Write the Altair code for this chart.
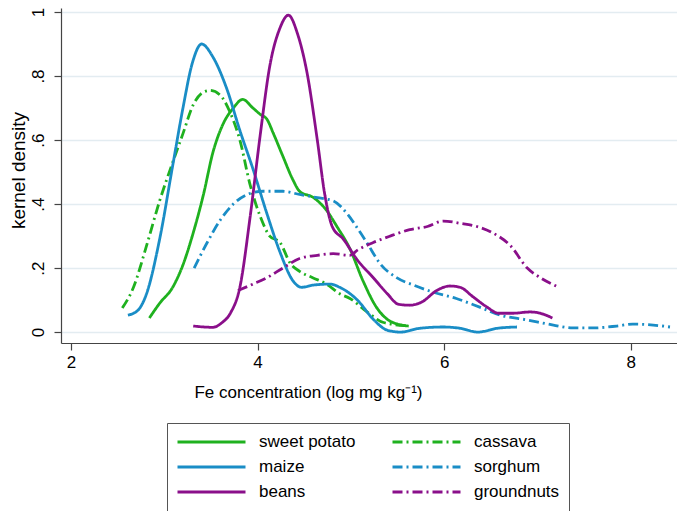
import altair as alt
import pandas as pd

crops = ["sweet potato", "cassava", "maize", "sorghum", "beans", "groundnuts"]
legend_order = ["sweet potato", "maize", "beans", "cassava", "sorghum", "groundnuts"]
colors = ["#1fb11f", "#1a8dc6", "#8a0f8a", "#1fb11f", "#1a8dc6", "#8a0f8a"]
dashes = [[1, 0], [1, 0], [1, 0], [10, 4, 2, 4], [10, 4, 2, 4], [10, 4, 2, 4]]

sweet_potato_x = [2.84, 2.95, 3.09, 3.20, 3.31, 3.42, 3.52, 3.63, 3.74, 3.84, 3.95, 4.03, 4.10, 4.17, 4.27,
                  4.38, 4.45, 4.60, 4.74, 4.85, 4.99, 5.13, 5.28, 5.39, 5.50, 5.62]
sweet_potato_y = [.044, .09, .14, .21, .31, .43, .56, .65, .70, .727, .70, .68, .665, .62, .55,
                  .475, .44, .42, .38, .33, .26, .16, .075, .04, .025, .019]

cassava_x = [2.55, 2.67, 2.81, 2.95, 3.09, 3.20, 3.31, 3.42, 3.49, 3.60, 3.70, 3.81, 3.92, 4.03, 4.13,
             4.24, 4.35, 4.45, 4.59, 4.74, 4.88, 4.99, 5.17, 5.35, 5.60]
cassava_y = [.075, .14, .27, .41, .53, .62, .71, .75, .755, .74, .69, .60, .46, .36, .30,
             .28, .215, .19, .17, .15, .12, .105, .064, .03, .02]

maize_x = [2.61, 2.72, 2.81, 2.95, 3.09, 3.20, 3.30, 3.40, 3.52, 3.67, 3.81, 3.95, 4.10, 4.24, 4.38,
           4.47, 4.60, 4.78, 4.88, 5.07, 5.24, 5.39, 5.53, 5.74, 5.99, 6.17, 6.36, 6.57, 6.78]
maize_y = [.053, .069, .12, .29, .52, .70, .84, .90, .86, .76, .63, .51, .37, .25, .16,
           .14, .147, .15, .14, .10, .04, .006, 0, .012, .016, .012, 0, .012, .016]

sorghum_x = [3.32, 3.46, 3.60, 3.74, 3.89, 4.06, 4.27, 4.45, 4.64, 4.81, 4.96, 5.08, 5.17, 5.31, 5.49,
             5.67, 5.88, 6.13, 6.38, 6.60, 6.89, 7.17, 7.38, 7.59, 7.85, 8.02, 8.24, 8.42]
sorghum_y = [.20, .28, .35, .40, .43, .44, .44, .43, .42, .41, .37, .32, .28, .215, .17,
             .147, .125, .105, .078, .053, .038, .022, .013, .013, .019, .025, .022, .016]

beans_x = [3.31, 3.52, 3.62, 3.71, 3.81, 3.92, 4.03, 4.13, 4.24, 4.33, 4.43, 4.53, 4.64, 4.72, 4.80,
           4.92, 5.07, 5.24, 5.39, 5.51, 5.63, 5.76, 5.92, 6.06, 6.17, 6.31, 6.46, 6.58, 6.74, 6.92,
           7.03, 7.16]
beans_y = [.019, .015, .03, .06, .14, .36, .62, .83, .95, .99, .93, .81, .60, .43, .33,
           .29, .225, .17, .12, .087, .084, .094, .13, .144, .14, .11, .078, .059, .059, .063,
           .059, .044]

groundnuts_x = [3.79, 3.95, 4.10, 4.27, 4.45, 4.64, 4.81, 4.99, 5.07, 5.24, 5.42, 5.63, 5.82, 5.99, 6.17,
                6.35, 6.52, 6.71, 6.89, 7.03, 7.20]
groundnuts_y = [.13, .15, .17, .20, .23, .24, .245, .24, .256, .28, .30, .32, .33, .347, .34,
                .33, .31, .27, .20, .17, .144]

series = {
    "sweet potato": (sweet_potato_x, sweet_potato_y),
    "cassava": (cassava_x, cassava_y),
    "maize": (maize_x, maize_y),
    "sorghum": (sorghum_x, sorghum_y),
    "beans": (beans_x, beans_y),
    "groundnuts": (groundnuts_x, groundnuts_y),
}

rows = []
for crop in crops:
    xs, ys = series[crop]
    for i, (xv, yv) in enumerate(zip(xs, ys)):
        rows.append({"crop": crop, "x": xv, "y": yv, "i": i})
df = pd.DataFrame(rows)

FONT = "Liberation Sans"

legend = alt.Legend(
    title=None, orient="none", legendX=106, legendY=415, columns=2,
    symbolType="stroke", symbolSize=4624, symbolStrokeWidth=3, clipHeight=20,
    labelFont=FONT, labelFontSize=17, labelColor="#000000", labelOffset=12,
    columnPadding=35, rowPadding=5, padding=9,
    strokeColor="#555555", fillColor="#ffffff",
)

chart = alt.Chart(df).mark_line(strokeWidth=2.8, interpolate="monotone").encode(
    x=alt.X("x:Q",
            scale=alt.Scale(domain=[1.893, 8.495], nice=False, zero=False),
            axis=alt.Axis(values=[2, 4, 6, 8], title="Fe concentration (log mg kg⁻¹)", grid=False,
                          tickSize=7, labelPadding=4, labelFontSize=17,
                          titleX=247, titleY=54, titleAlign="center", titleBaseline="alphabetic",
                          titleFontSize=17)),
    y=alt.Y("y:Q",
            scale=alt.Scale(domain=[-0.034, 1.0125], nice=False, zero=False),
            axis=alt.Axis(values=[0, 0.2, 0.4, 0.6, 0.8, 1], title="kernel density",
                          labelExpr="datum.value == 0 ? '0' : datum.value == 1 ? '1' : replace(format(datum.value, '.1f'), '0.', '.')",
                          labelAngle=-90, labelAlign="center", labelBaseline="alphabetic",
                          tickSize=7, labelPadding=11, labelFontSize=17,
                          grid=True, gridColor="#e3ecf1", gridWidth=1.5,
                          titleX=-52, titleY=162, titleAlign="center", titleBaseline="top",
                          titleFontSize=19)),
    color=alt.Color("crop:N", scale=alt.Scale(domain=legend_order, range=colors), legend=legend),
    strokeDash=alt.StrokeDash("crop:N", scale=alt.Scale(domain=legend_order, range=dashes), legend=legend),
    order=alt.Order("i:Q"),
).properties(
    width=616, height=335,
    autosize=alt.AutoSizeParams(type="none"),
    padding={"left": 53, "top": 0, "right": 0, "bottom": 168},
).configure_view(strokeWidth=0).configure_axis(
    labelFont=FONT, titleFont=FONT, labelColor="#000000", titleColor="#000000",
    titleFontWeight="normal", domainColor="#444444", tickColor="#444444", domainWidth=1.2, tickWidth=1.2,
)

chart.save("out.html", embed_options={"renderer": "svg", "actions": False})
